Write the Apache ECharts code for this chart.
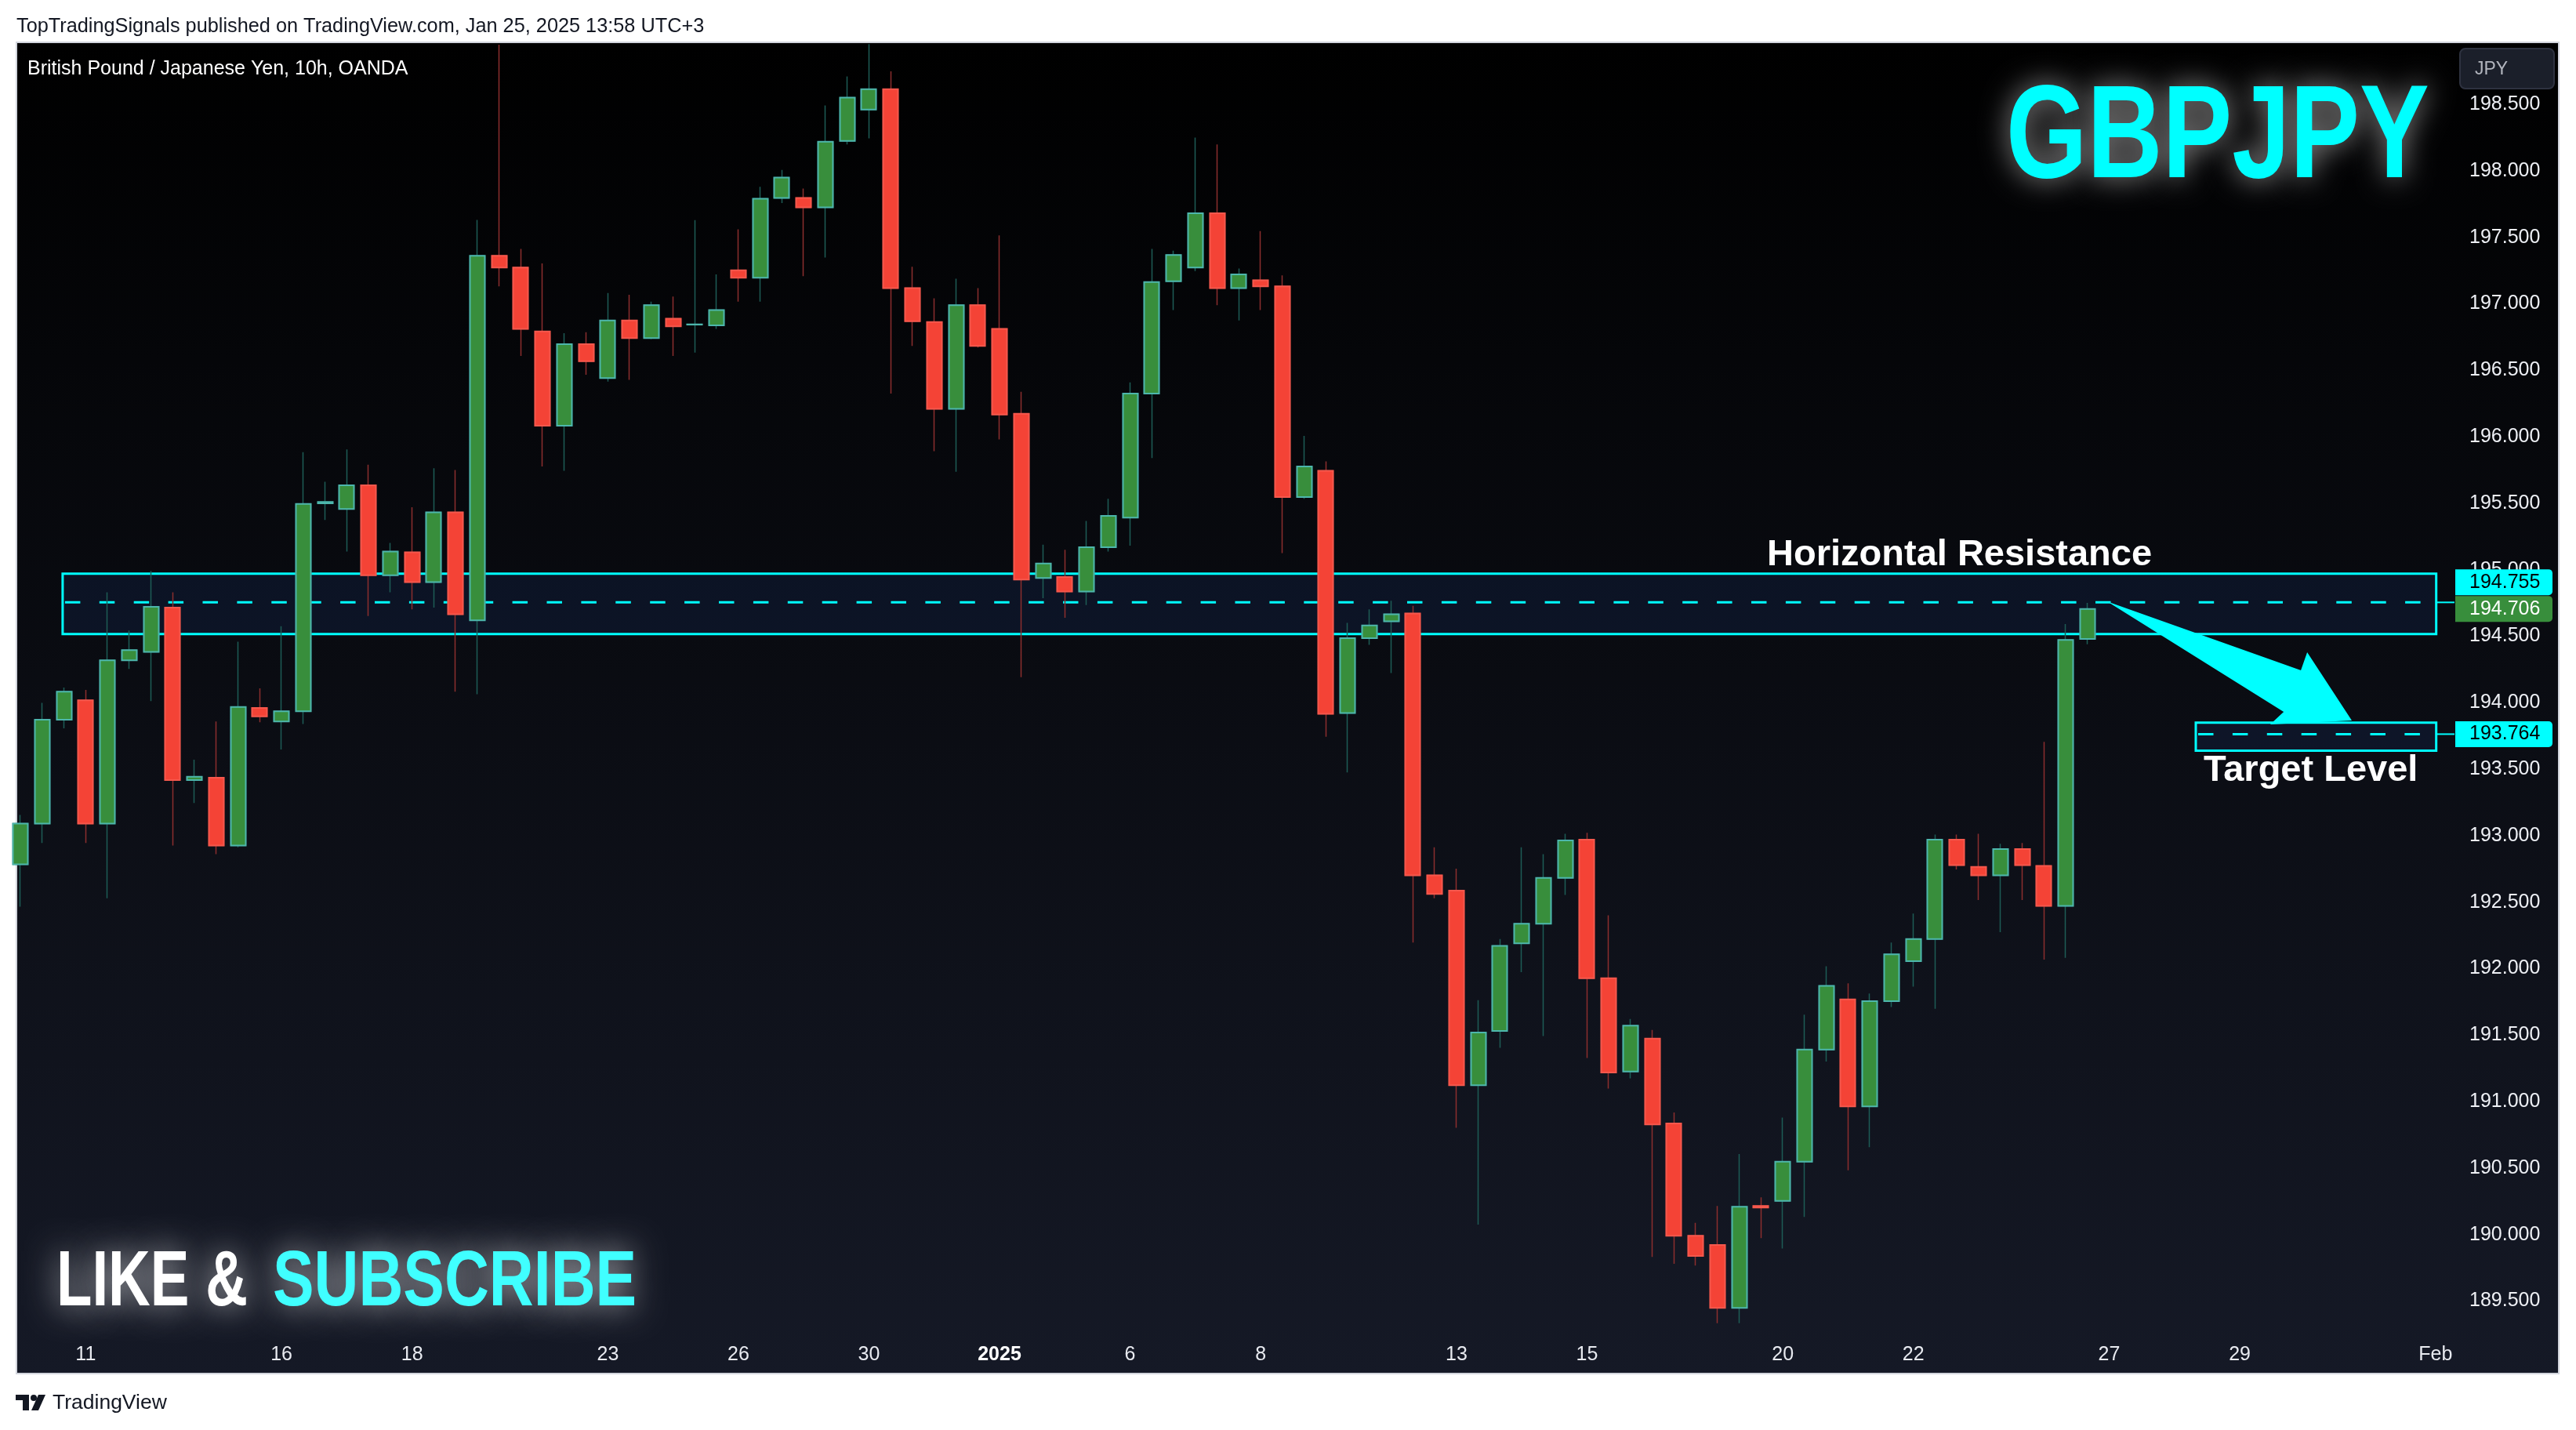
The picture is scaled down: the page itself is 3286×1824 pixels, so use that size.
<!DOCTYPE html>
<html>
<head>
<meta charset="utf-8">
<script src="https://cdn.jsdelivr.net/npm/echarts@6/dist/echarts.min.js"></script>
<style>
html,body{margin:0;padding:0;background:#ffffff;}
#c{width:3286px;height:1824px;}
</style>
</head>
<body>
<div id="c"></div>
<script>
// ---------- DATA ----------
const opens = [
192.785,193.092,193.872,194.019,193.092,194.319,194.383,194.716,193.418,193.437,
192.926,193.961,193.859,193.936,195.500,195.457,195.636,194.959,195.131,194.907,
195.432,194.620,197.362,197.273,196.793,196.084,196.697,196.442,196.876,196.742,
196.889,196.844,196.838,197.253,197.196,197.797,197.797,197.726,198.225,198.461,
198.615,197.119,196.863,196.211,196.991,196.812,196.173,194.939,194.946,194.837,
195.170,195.393,196.326,197.170,197.273,197.682,197.119,197.177,197.132,195.547,
195.745,193.923,194.486,194.613,194.671,192.702,192.587,191.123,191.532,192.191,
192.338,192.683,192.971,191.929,191.226,191.475,190.836,189.992,189.922,189.449,
190.216,190.254,190.548,191.392,191.769,190.964,191.756,192.057,192.223,192.971,
192.766,192.702,192.900,192.773,192.472,194.480];
const closes = [
193.092,193.872,194.083,193.092,194.319,194.396,194.722,193.418,193.444,192.926,
193.968,193.898,193.936,195.496,195.510,195.636,194.959,195.138,194.907,195.432,
194.665,197.362,197.273,196.812,196.084,196.697,196.569,196.876,196.742,196.991,
196.831,196.846,196.953,197.196,197.790,197.950,197.726,198.219,198.551,198.615,
197.119,196.870,196.211,196.991,196.684,196.167,194.927,195.048,194.837,195.170,
195.406,196.326,197.164,197.368,197.682,197.119,197.221,197.132,195.547,195.777,
193.917,194.486,194.582,194.665,192.702,192.562,191.123,191.520,192.172,192.338,
192.683,192.964,191.929,191.219,191.571,190.829,189.992,189.839,189.449,190.209,
190.203,190.548,191.392,191.871,190.964,191.756,192.108,192.223,192.971,192.779,
192.702,192.900,192.779,192.472,194.473,194.706];
const lows = [
192.466,192.945,193.808,192.945,192.530,194.255,194.013,192.926,193.246,192.862,
192.913,193.853,193.648,193.840,195.374,195.138,194.652,194.831,194.703,194.716,
194.083,194.064,197.132,196.608,195.777,195.745,196.467,196.416,196.429,196.735,
196.608,196.633,196.812,197.017,197.017,197.758,197.209,197.349,198.199,198.244,
196.326,196.684,195.892,195.738,196.672,195.981,194.192,194.786,194.639,194.735,
195.138,195.182,195.841,196.953,197.247,196.991,196.876,196.953,195.125,195.534,
193.744,193.476,194.435,194.224,192.197,192.530,190.804,190.075,191.405,191.974,
191.494,192.555,191.328,191.098,191.175,189.832,189.781,189.768,189.334,189.334,
189.973,189.896,190.133,191.302,190.484,190.657,191.712,191.865,191.699,192.747,
192.517,192.274,192.517,192.069,192.082,194.440];
const highs = [
193.156,194.000,194.115,194.096,194.831,194.543,194.991,194.831,193.572,193.859,
194.460,194.108,194.575,195.885,195.662,195.905,195.790,195.202,195.470,195.764,
195.751,197.631,198.950,197.413,197.304,196.780,196.787,197.081,197.068,197.017,
197.055,197.630,197.221,197.560,197.880,198.008,197.867,198.493,198.711,198.954,
198.749,197.279,197.042,197.189,197.119,197.515,196.339,195.189,195.150,195.368,
195.534,196.410,197.413,197.400,198.250,198.199,197.266,197.547,197.215,196.007,
195.815,194.601,194.703,194.767,194.729,192.913,192.753,191.763,192.223,192.913,
192.862,193.015,193.022,192.402,191.622,191.539,190.919,190.088,190.216,190.606,
190.280,190.880,191.654,192.018,191.890,191.814,192.197,192.415,193.009,193.009,
193.015,192.939,192.945,193.706,194.592,194.751];

// time-axis tick labels and the bar each one sits on
const xTickBars   = [3, 12, 18, 27, 33, 39, 45, 51, 57, 66, 72, 81, 87, 96, 102, 111];
const xTickLabels = ['11','16','18','23','26','30','2025','6','8','13','15','20','22','27','29','Feb'];
// price-axis tick labels
const yTicks = [189.5,190.0,190.5,191.0,191.5,192.0,192.5,193.0,193.5,194.0,194.5,195.0,195.5,196.0,196.5,197.0,197.5,198.0,198.5];

// drawn zones (bar index / price)
const zoneFrom = [1.94, 99.98];
const zoneTo   = [111.03, 111.03];
const zoneLow  = [194.517, 193.639];
const zoneHigh = [194.971, 193.851];
const zoneMid  = [194.755, 193.764];
const zoneText   = ['Horizontal Resistance', 'Target Level'];
const zoneTextX  = [89.12, 100.34];
const zoneTextY  = [195.113, 193.489];
const zoneTextAl = ['center', 'left'];

// arrow outline (bar index, price)
const arrowBars   = [95.91, 104.81, 105.10, 107.15, 103.40, 104.02];
const arrowPrices = [194.762, 194.244, 194.380, 193.867, 193.837, 193.932];

// price tags on the axis
const tagPrices = [194.755, 194.706, 193.764];
const tagFill   = ['#00ffff', '#388e3c', '#00ffff'];
const tagInk    = ['#000000', '#ffffff', '#000000'];

// visible ranges
const xMin = -0.182, xMax = 111.87;
const yMin = 189.244, yMax = 198.967;

// ---------- STYLE ----------
const AX_FONT = "'Liberation Sans', Arial, sans-serif";
const CYAN = '#00ffff';

const wickData = opens.map((o, i) => [i, o, closes[i], lows[i], highs[i]]);
const bodyData = opens.map((o, i) => [i, o, closes[i], Math.min(o, closes[i]), Math.max(o, closes[i])]);
const zoneData = zoneFrom.map((f, i) => [f, zoneTo[i], zoneLow[i], zoneHigh[i], zoneMid[i], i]);
const tagData = tagPrices.map((p, i) => [0, p, i]);

const chart = echarts.init(document.getElementById('c'), null, {renderer: 'canvas', width: 3286, height: 1824});

function txt(style) {
  if (style.align) style.textAlign = style.align;
  if (style.verticalAlign) style.textVerticalAlign = style.verticalAlign;
  return style;
}
function glowText(text, x, y, size, sx, fill, glow, blur) {
  return {type: 'text', z: 60, x: x, y: y, scaleX: sx, scaleY: 1,
    style: txt({text: text, x: 0, y: 0, fill: fill, font: 'bold ' + size + 'px ' + AX_FONT,
      align: 'left', verticalAlign: 'middle', shadowBlur: blur, shadowColor: glow,
      textShadowBlur: blur, textShadowColor: glow})};
}

const option = {
  backgroundColor: '#ffffff',
  animation: false,
  grid: {left: 21, top: 54, right: 155, bottom: 121, containLabel: false},
  xAxis: {
    type: 'value', min: xMin, max: xMax,
    axisLine: {show: false}, axisTick: {show: false}, splitLine: {show: false},
    axisLabel: {
      customValues: xTickBars,
      margin: 25, verticalAlign: 'middle',
      color: '#e8eaf0', fontSize: 25, fontFamily: AX_FONT,
      formatter: function (v) {
        const k = xTickBars.indexOf(Math.round(v));
        const s = k >= 0 ? xTickLabels[k] : '';
        return s === '2025' ? '{b|' + s + '}' : s;
      },
      rich: {b: {fontWeight: 'bold', fontSize: 25, color: '#ffffff', fontFamily: AX_FONT}}
    }
  },
  yAxis: {
    type: 'value', position: 'right', min: yMin, max: yMax, scale: true,
    axisLine: {show: false}, axisTick: {show: false}, splitLine: {show: false},
    axisLabel: {
      customValues: yTicks, margin: 19,
      color: '#eef0f5', fontSize: 25, fontFamily: AX_FONT,
      formatter: v => Number(v).toFixed(3)
    }
  },
  graphic: [
    {type: 'rect', z: -10, shape: {x: 21, y: 54, width: 3243, height: 1698},
     style: {fill: new echarts.graphic.LinearGradient(0, 0, 0, 1, [{offset: 0, color: '#000000'}, {offset: 1, color: '#151926'}]),
             stroke: '#d1d4dc', lineWidth: 2}},
    {type: 'text', z: 50, style: txt({text: 'TopTradingSignals published on TradingView.com, Jan 25, 2025 13:58 UTC+3',
      x: 21, y: 34, fill: '#131722', font: "25.3px " + AX_FONT, align: 'left', verticalAlign: 'middle'})},
    {type: 'text', z: 50, style: txt({text: 'British Pound / Japanese Yen, 10h, OANDA',
      x: 35, y: 88, fill: '#ffffff', font: "25px " + AX_FONT, align: 'left', verticalAlign: 'middle'})},
    {type: 'rect', z: 50, shape: {x: 3138, y: 62, width: 120, height: 51, r: 7},
     style: {fill: '#1b1f2a', stroke: '#2e3240', lineWidth: 2}},
    {type: 'text', z: 51, style: txt({text: 'JPY', x: 3157, y: 89, fill: '#b2b5be', font: "23px " + AX_FONT,
      align: 'left', verticalAlign: 'middle'})},
    glowText('GBPJPY', 2559, 179, 169, 0.787, CYAN, 'rgba(255,255,255,0.6)', 36),
    glowText('LIKE &', 72, 1637, 100, 0.744, '#ffffff', 'rgba(255,255,255,0.75)', 42),
    glowText('SUBSCRIBE', 348, 1637, 100, 0.788, '#40ffff', 'rgba(255,255,255,0.75)', 42),
    // TradingView footer logo
    {type: 'rect', z: 50, shape: {x: 20, y: 1779, width: 17, height: 7}, style: {fill: '#131722'}},
    {type: 'rect', z: 50, shape: {x: 29, y: 1779, width: 8, height: 20}, style: {fill: '#131722'}},
    {type: 'circle', z: 50, shape: {cx: 43, cy: 1783, r: 4}, style: {fill: '#131722'}},
    {type: 'polygon', z: 50, shape: {points: [[49, 1779], [58, 1779], [49, 1799], [40, 1799]]}, style: {fill: '#131722'}},
    {type: 'text', z: 50, style: txt({text: 'TradingView', x: 67, y: 1790, fill: '#131722', font: "26.5px " + AX_FONT,
      align: 'left', verticalAlign: 'middle'})}
  ],
  series: [
    {
      type: 'custom', name: 'zones', z: 1, clip: false,
      encode: {x: [0, 1], y: [2, 3, 4]},
      data: zoneData,
      renderItem: function (params, api) {
        const i = api.value(5);
        const a = api.coord([api.value(0), api.value(3)]);
        const b = api.coord([api.value(1), api.value(2)]);
        const m0 = api.coord([api.value(0), api.value(4)]);
        const m1 = api.coord([api.value(1), api.value(4)]);
        const cs = params.coordSys;
        const lp = api.coord([zoneTextX[i], zoneTextY[i]]);
        return {type: 'group', children: [
          {type: 'rect', shape: {x: a[0], y: a[1], width: b[0] - a[0], height: b[1] - a[1]},
           style: {fill: 'rgba(30,70,150,0.16)', stroke: CYAN, lineWidth: 3}},
          {type: 'line', shape: {x1: m0[0] + 3, y1: m0[1], x2: m1[0] - 2, y2: m1[1]},
           style: {stroke: CYAN, lineWidth: 3, lineDash: [19.5, 24.4]}},
          {type: 'line', shape: {x1: m1[0], y1: m1[1], x2: cs.x + cs.width, y2: m1[1]},
           style: {stroke: CYAN, lineWidth: 2}},
          {type: 'text', z2: 5, style: txt({text: zoneText[i], x: lp[0], y: lp[1], fill: '#ffffff',
            font: "bold 47px " + AX_FONT, align: zoneTextAl[i], verticalAlign: 'middle'})}
        ]};
      }
    },
    {
      type: 'candlestick', name: 'wicks', z: 3, barWidth: 19.5,
      data: wickData,
      itemStyle: {color: '#388e3c', color0: '#f44336', borderColor: '#1d5c56', borderColor0: '#8b2e2e', borderWidth: 1.5}
    },
    {
      type: 'candlestick', name: 'bodies', z: 4, barWidth: 19.5,
      data: bodyData,
      itemStyle: {color: '#388e3c', color0: '#f44336', borderColor: '#4db6ac', borderColor0: '#f5584d', borderWidth: 2}
    },
    {
      type: 'custom', name: 'arrow', z: 6, clip: false,
      encode: {x: 0, y: 1},
      data: [[arrowBars[0], arrowPrices[0]]],
      renderItem: function (params, api) {
        const pts = arrowBars.map((x, k) => api.coord([x, arrowPrices[k]]));
        return {type: 'polygon', shape: {points: pts}, style: {fill: CYAN}};
      }
    },
    {
      type: 'custom', name: 'tags', z: 10, clip: false,
      encode: {x: 0, y: 1},
      data: tagData,
      renderItem: function (params, api) {
        const i = api.value(2);
        const cs = params.coordSys;
        const h = 33;
        let yc = api.coord([0, tagPrices[i]])[1];
        if (i === 0) {
          const y1 = api.coord([0, tagPrices[1]])[1];
          if (Math.abs(yc - y1) < h + 1) yc = y1 - h - 1;
        }
        const x = cs.x + cs.width + 1;
        return {type: 'group', children: [
          {type: 'rect', shape: {x: x, y: yc - h / 2, width: 124, height: h, r: [0, 5, 5, 0]}, style: {fill: tagFill[i]}},
          {type: 'text', style: txt({text: tagPrices[i].toFixed(3), x: x + 18, y: yc, fill: tagInk[i],
            font: "25px " + AX_FONT, align: 'left', verticalAlign: 'middle'})}
        ]};
      }
    }
  ]
};
chart.setOption(option);
</script>
</body>
</html>
